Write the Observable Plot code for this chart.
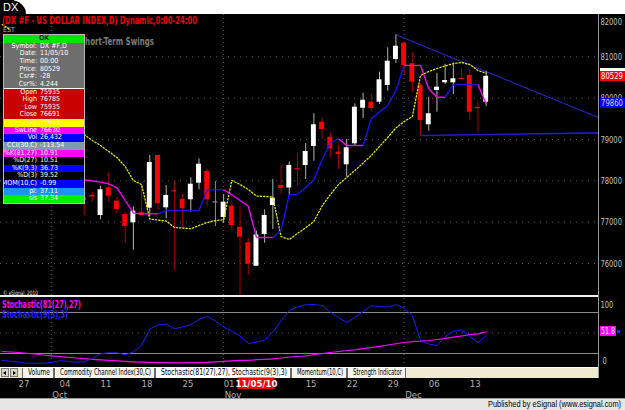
<!DOCTYPE html>
<html>
<head>
<meta charset="utf-8">
<script src="https://cdn.jsdelivr.net/npm/d3@7"></script>
<script src="https://cdn.jsdelivr.net/npm/@observablehq/plot@0.6"></script>
<style>
html,body{margin:0;padding:0;background:#fff;}
#wrap{position:relative;width:625px;height:410px;overflow:hidden;background:#000;
 font-family:"Liberation Sans Narrow","Arial Narrow","DejaVu Sans Condensed","Liberation Sans",sans-serif;}
#wrap .abs{position:absolute;white-space:nowrap;}
#wrap svg{position:absolute;left:0;}
</style>
</head>
<body>
<div id="wrap"></div>
<script>
// ---------------- DATA ----------------
const dates = ["2010-09-23","2010-09-24","2010-09-27","2010-09-28","2010-09-29","2010-09-30","2010-10-01",
"2010-10-04","2010-10-05","2010-10-06","2010-10-07","2010-10-08","2010-10-11","2010-10-12","2010-10-13","2010-10-14","2010-10-15",
"2010-10-18","2010-10-19","2010-10-20","2010-10-21","2010-10-22","2010-10-25","2010-10-26","2010-10-27","2010-10-28","2010-10-29",
"2010-11-01","2010-11-02","2010-11-03","2010-11-04","2010-11-05","2010-11-08","2010-11-09","2010-11-10","2010-11-11","2010-11-12",
"2010-11-15","2010-11-16","2010-11-17","2010-11-18","2010-11-19","2010-11-22","2010-11-23","2010-11-24","2010-11-25","2010-11-26",
"2010-11-29","2010-11-30","2010-12-01","2010-12-02","2010-12-03","2010-12-06","2010-12-07","2010-12-08","2010-12-09","2010-12-10",
"2010-12-13","2010-12-14","2010-12-15"];

const N0 = [null,null,null,null,null,null,null,null,null,null];
const open  = N0.concat([77600,77650,77162,77832,77508,77186,76986,77242,77339,78613,
 77348,77750,77549,77542,77943,78226,77465,77114,77387,76879,
 76502,75935,76703,77404,77888,77827,78282,78371,78831,79418,
 79056,78693,78388,78896,79757,79902,79902,80306,80935,81329,
 80831,80306,79356,80185,80371,80371,80475,80548,79767,79902]);
const high  = N0.concat([77800,77726,77863,78185,77605,77242,77372,77912,78613,78613,
 77888,77984,77670,78074,78533,78291,77984,77670,77508,77380,
 76623,76785,77300,78033,78371,78456,78661,78903,79622,79525,
 79152,78855,79000,79863,80120,80088,80628,81218,81532,81353,
 81087,80347,80023,80603,80821,80845,80710,80686,79902,80652]);
const low   = N0.concat([77162,77484,77058,77476,77203,76478,76323,77162,77138,77283,
 77082,75820,76879,77242,77784,77380,76896,76968,76799,75220,
 75711,75935,76492,76823,77677,77629,77871,78033,78475,78993,
 78557,78267,78088,78831,79508,79677,79846,80168,80845,80548,
 80144,79097,79201,79660,80330,80088,80440,79460,79176,79800]);
const close = N0.concat([77520,77610,77784,77629,77307,76896,77266,77162,78444,77445,
 77646,77735,77324,77919,78403,77542,77465,77484,76920,76637,
 75984,76691,77162,77580,77815,78371,78267,78710,79356,79242,
 78775,78637,78799,79781,79950,79750,80444,80894,81256,80790,
 80386,79460,79622,80265,80427,80468,80451,79660,79750,80529]);

// TFT (yellow dotted) – hidden bars left null
const tft = [81781,81660,null,null,null,null,null,null,null,null,
 79121,78976,78855,78710,78565,78347,78008,77912,77077,77053,
 77029,76872,76860,76840,76920,76993,77041,77058,78008,77912,
 77791,77633,77622,77609,76654,76582,76727,76865,77017,77392,
 77670,77912,78081,78250,78432,78613,78831,79048,79278,79435,
 79556,80548,80644,80717,80778,80838,80862,80814,80669,80603];

// SwLine values and state (M = above price / magenta, B = below price / blue)
const swLine = N0.concat([78025,77996,77967,77924,77832,77525,77218,77203,77203,77203,
 77283,77283,77283,77283,77283,77784,77784,77784,77663,77525,
 77392,76630,76630,76630,76799,77670,77670,77839,78025,78516,
 78915,79017,78855,78855,78855,79501,79665,79822,80185,80790,
 80790,80790,80226,80023,80023,80330,80330,80330,80330,79860]);
const swState = N0.concat(["M","M","M","M","M","M","M","M","M","M",
 "B","B","B","B","B","B","B","B","M","M",
 "M","M","M","M","B","B","B","B","B","B",
 "B","B","M","M","M","B","B","B","B","B",
 "M","M","M","M","M","B","B","B","B","M"]);

// Stochastic(81(27),27) %K and Stochastic(9(3),3) %K
const stochSlow = [22.9,22.2,21.5,20.3,19.3,17.8,16.6,15.6,14.4,13.4,
 12.4,11.5,10.8,10.0,9.3,8.6,7.7,7.3,7.0,6.7,
 6.5,6.4,6.4,6.5,6.7,7.0,7.7,8.6,9.3,9.8,
 10.0,10.91,11.5,12.2,13.4,14.9,15.6,16.3,18.5,19.7,
 21.5,22.9,24.4,25.4,27.0,28.8,30.5,32.4,34.3,36.1,
 37.3,38.0,39.0,40.5,42.2,43.9,45.6,47.5,48.8,51.8];
const stochFast = [9.8,8.7,7.3,5.8,5.8,5.8,6.8,9.3,8.7,7.3,
 7.6,12.7,19.6,21.0,21.0,18.2,22.2,31.7,55.9,61.7,
 63.2,56.3,58.8,62.4,69.8,74.2,67.6,58.8,52.9,45.6,
 34.6,36.73,39.8,51.5,67.6,82.9,88.3,91.4,91.7,90.2,
 80.7,72.7,65.4,72.7,81.5,89.8,88.8,88.1,91.4,86.6,
 75.6,39.0,33.9,31.7,44.9,52.5,54.5,44.9,36.1,46.3];

// trend lines (anchor dates / values)
const resistDates = ["2010-11-30","2010-12-15"];
const resistValues = [81532, 80640];
const supportDate = "2010-12-03";
const supportValues = [79097, 79160];   // start value, value at right edge

// ticks & labels
const priceTicks = [76000,77000,78000,79000,80000,81000];
const priceTop = 82000;
const stochLevels = [20,80];
const stochMid = 50;
const stochLabels = [100, 0];
const dayTickDates = ["2010-09-27","2010-10-04","2010-10-11","2010-10-18","2010-10-25","2010-11-01","2010-11-15","2010-11-22","2010-11-29","2010-12-06","2010-12-13"];
const dayTickLabels = ["27","04","11","18","25","01","15","22","29","06","13"];
const monthDates = ["2010-10-01","2010-11-01","2010-12-01"];
const monthLabels = ["Oct","Nov","Dec"];
const cursorDate = "2010-11-05";
const cursorLabel = "11/05/10";

const titleText = "(DX #F - US DOLLAR INDEX,D) Dynamic,0:00-24:00";
const infoLabels = ["OK","Symbol:","Date:","Time:","Price:","Csr#:","Csr%:","Open","High","Low","Close","TFT","SwLine","Vol","CCI(30,C)","%K(81,27)","%D(27)","%K(9,3)","%D(3)","MOM(10,C)","pl:","sls"];
const infoValues = ["","DX #F,D","11/05/10","00:00","80529","-28","4.244","75935","76785","75935","76691","77633","76630","26,432","-113.54","10.91","10.51","36.73","39.52","-0.99","37.11","37.34"];
const infoFill = ["#00e400","#6e6e6e","#6e6e6e","#6e6e6e","#6e6e6e","#6e6e6e","#6e6e6e","#c80000","#c80000","#c80000","#c80000","#ffff00","#ff00ff","#0000ff","#7f9aae","#ff00ff","#000000","#0000ff","#000000","#0000ff","#2090ff","#00ee00"];
const tabLabels = ["Volume","Commodity Channel Index(30,C)","Stochastic(81(27),27), Stochastic(9(3),3)","Momentum(10,C)","Strength Indicator"];

// ---------------- LAYOUT ----------------
const wrap = document.getElementById("wrap");
const FONT = '"Liberation Sans Narrow","Arial Narrow","DejaVu Sans Condensed","Liberation Sans",sans-serif';
function el(css, text, parent){ const d=document.createElement("div"); d.className="abs"; Object.assign(d.style, css); if(text!=null) d.textContent=text; (parent||wrap).appendChild(d); return d; }
function fit(d, w, origin){ const r=d.getBoundingClientRect().width; if(r>0){ d.style.transform="scaleX("+(w/r).toFixed(3)+")"; d.style.transformOrigin=(origin||"left")+" center"; } }
// horizontally compress numeric SVG labels to the narrow width of the original pixel font
function squeeze(svg, perChar){
  svg.querySelectorAll("text").forEach(t=>{
    const s=t.textContent;
    if(s && /^[0-9.]+$/.test(s)){
      const w = t.getComputedTextLength();
      if (w>0) { const k = Math.min(1, perChar*s.length/w); t.setAttribute("transform", (t.getAttribute("transform")||"") + " scale(" + k.toFixed(3) + ",1)"); }
    }
  });
}
const idx = d => dates.indexOf(d);
const xDomain = [-0.195, 72.69];
const XR = xDomain[1];

// top white strip and DX tab
el({left:"0px",top:"0px",width:"625px",height:"14px",background:"#fff"});
el({left:"0px",top:"0px",width:"14px",height:"14px",background:"#000"});
el({left:"6px",top:"0px",width:"20px",height:"14px",background:"#000",borderTopRightRadius:"16px 14px"});
el({left:"3px",top:"1px",color:"#fff",fontSize:"11px",lineHeight:"12px",fontFamily:"'Liberation Sans',sans-serif"},"DX");

// ---------------- MAIN PRICE PANE ----------------
const bars = dates.map((d,i)=>({i, o:open[i], h:high[i], l:low[i], c:close[i]})).filter(b=>b.o!=null);
const bodyColor = b => b.c>b.o ? "#ffffff" : b.c<b.o ? "#ff0000" : "#8c8c8c";
const wickColor = b => b.c>b.o ? "#b4b4b4" : b.c<b.o ? "#a80000" : "#8c8c8c";
const tftPts = dates.map((d,i)=>({i, v:tft[i]}));
const swSegs = [];
for (let i=1;i<dates.length;i++){
  if (swLine[i-1]!=null && swLine[i]!=null)
    swSegs.push({x1:i-1, y1:swLine[i-1], x2:i, y2:swLine[i], color: swState[i]==="M" ? "#ff00ff" : "#1414ff"});
}
const r0 = idx(resistDates[0]), r1 = idx(resistDates[1]);
const rSlope = (resistValues[1]-resistValues[0])/(r1-r0);
const resist = {x1:r0, y1:resistValues[0], x2:XR, y2:resistValues[0]+rSlope*(XR-r0)};
const support = {x1:idx(supportDate), y1:supportValues[0], x2:XR, y2:supportValues[1]};
const monthIdx = monthDates.map(idx);

const main = Plot.plot({
  width:625, height:282, marginTop:0, marginBottom:0, marginLeft:0, marginRight:27,
  x:{domain:xDomain, axis:null},
  y:{domain:[75203, 82023], axis:null},
  color:{type:"identity"},
  style:{background:"transparent", fontFamily:FONT, fontSize:"9.5px", color:"#c0c0c0", overflow:"visible"},
  marks:[
    Plot.ruleY(priceTicks, {stroke:"#5c5c5c", strokeDasharray:"1,5"}),
    Plot.ruleX(monthIdx, {stroke:"#5c5c5c", strokeDasharray:"1,3"}),
    Plot.link([resist], {x1:"x1", y1:"y1", x2:"x2", y2:"y2", stroke:"#2a2ad8", strokeWidth:1}),
    Plot.link([support], {x1:"x1", y1:"y1", x2:"x2", y2:"y2", stroke:"#1c1cd0", strokeWidth:1.6}),
    Plot.ruleX(bars, {x:"i", y1:"l", y2:"h", stroke:wickColor, strokeWidth:1}),
    Plot.rect(bars, {x1:b=>b.i-0.3, x2:b=>b.i+0.3, y1:b=>Math.min(b.o,b.c), y2:b=>Math.max(b.o,b.c,Math.min(b.o,b.c)+28), fill:bodyColor}),
    Plot.line(tftPts, {x:"i", y:"v", stroke:"#e4e400", strokeWidth:1.3, strokeDasharray:"1.3,2"}),
    Plot.link(swSegs, {x1:"x1", y1:"y1", x2:"x2", y2:"y2", stroke:"color", strokeWidth:1.3}),
    Plot.text(priceTicks, {y:d=>d, text:d=>String(d), frameAnchor:"right", textAnchor:"start", dx:2, fill:"#c0c0c0"}),
    Plot.text([priceTop], {y:d=>d, text:d=>String(d), frameAnchor:"right", textAnchor:"start", dx:2, dy:6, fill:"#c0c0c0"})
  ]
});
main.style.top = "14px";
wrap.appendChild(main);
squeeze(main, 4.3);
const py = v => main.scale("y").apply(v) + 14;

// overlays on main pane
const t1 = el({left:"2px",top:"15px",fontSize:"10px",lineHeight:"12px",fontWeight:"bold",color:"#ee0000"}, titleText); fit(t1,195);
const t2 = el({left:"3px",top:"26px",fontSize:"7px",lineHeight:"8px",color:"#b8b8b8"}, "EST"); fit(t2,12);
const t3 = el({left:"80px",top:"36px",fontSize:"10px",lineHeight:"11px",fontWeight:"bold",color:"#7c7c7c"}, "Short-Term Swings"); fit(t3,74);
const t4 = el({left:"3px",top:"289px",fontSize:"6px",lineHeight:"7px",color:"#e0e0e0"}, "\u00a9 eSignal, 2010"); fit(t4,35);

// info box
const ib = el({left:"3px",top:"34px",width:"82px",height:"170px",boxSizing:"border-box",border:"1px solid #b8b8b8",background:"#000",overflow:"hidden"});
const RH = 168/infoLabels.length;
infoLabels.forEach((lab,k)=>{
  const row = el({left:"0px",top:(k*RH)+"px",width:"80px",height:RH+"px",background:infoFill[k],
     borderTop: (k===7 ? "1px solid #fff" : "none"), boxSizing:"border-box"}, null, ib);
  const txtColor = k===0 ? "#003300" : (k===11 ? "#f0f0c0" : "#ffffff");
  if (k===0) {
    el({left:"0px",width:"80px",top:"0px",textAlign:"center",fontSize:"7px",lineHeight:RH+"px",color:txtColor,fontWeight:"bold"}, lab, row);
  } else {
    el({right:"47px",top:"0px",fontSize:"7px",lineHeight:RH+"px",color:txtColor}, lab, row);
    el({left:"36px",top:"0px",fontSize:"7px",lineHeight:RH+"px",color:txtColor}, infoValues[k], row);
  }
});

// right-axis last value labels
const lastI = dates.length-1;
const cyP = py(close[lastI]);
el({left:"600px",top:(cyP-7.5)+"px",width:"25px",height:"3px",background:"#fff"});
el({left:"600px",top:(cyP-5)+"px",width:"25px",height:"10px",background:"#ff0000"});
const lp = el({left:"601px",top:(cyP-5)+"px",fontSize:"9.5px",lineHeight:"10px",color:"#fff"}, String(close[lastI])); fit(lp,22);
const cyS = py(swLine[lastI]);
el({left:"600px",top:(cyS-5)+"px",width:"25px",height:"10px",background:"#0000ee"});
const ls = el({left:"601px",top:(cyS-5)+"px",fontSize:"9.5px",lineHeight:"10px",color:"#d8d8ff"}, String(swLine[lastI])); fit(ls,22);

// pane separator
el({left:"0px",top:"295px",width:"598px",height:"2px",background:"#f0f0f0"});

// ---------------- STOCHASTIC PANE ----------------
const stData = dates.map((d,i)=>({i, slow:stochSlow[i], fast:stochFast[i]}));
const stoch = Plot.plot({
  width:625, height:68, marginTop:0, marginBottom:0, marginLeft:0, marginRight:27,
  x:{domain:xDomain, axis:null},
  y:{domain:[0.97, 100.5], axis:null},
  style:{background:"transparent", fontFamily:FONT, fontSize:"9.5px", color:"#c0c0c0", overflow:"visible"},
  marks:[
    Plot.ruleY(stochLevels, {stroke:"#8a8a8a"}),
    Plot.ruleY([stochMid], {stroke:"#5c5c5c", strokeDasharray:"1,5"}),
    Plot.ruleX(monthIdx, {stroke:"#5c5c5c", strokeDasharray:"1,3"}),
    Plot.line(stData, {x:"i", y:"slow", stroke:"#ff00ff", strokeWidth:1.2}),
    Plot.line(stData, {x:"i", y:"fast", stroke:"#1c1cff", strokeWidth:1}),
    Plot.text([stochLabels[0]], {y:d=>d, text:d=>String(d), frameAnchor:"right", textAnchor:"start", dx:2, dy:6, fill:"#c0c0c0"}),
    Plot.text([stochLabels[1]], {y:d=>d, text:d=>String(d), frameAnchor:"right", textAnchor:"start", dx:4, dy:-6, fill:"#c0c0c0"})
  ]
});
stoch.style.top = "298px";
wrap.appendChild(stoch);
squeeze(stoch, 4.3);
const sy = v => stoch.scale("y").apply(v) + 298;
const s1 = el({left:"2px",top:"300px",fontSize:"10px",lineHeight:"10px",fontWeight:"bold",color:"#ff00ff"}, "Stochastic(81(27),27)"); fit(s1,79);
const s2 = el({left:"2px",top:"310px",fontSize:"10px",lineHeight:"10px",fontWeight:"bold",color:"#2424ff"}, "Stochastic(9(3),3)"); fit(s2,66);
const cySt = sy(stochSlow[lastI]);
el({left:"600px",top:(cySt-5)+"px",width:"16px",height:"10px",background:"#ff00ff"});
const sl = el({left:"601px",top:(cySt-5)+"px",fontSize:"9.5px",lineHeight:"10px",color:"#fff"}, String(stochSlow[lastI])); fit(sl,14);
el({left:"617px",top:(cySt-1.5)+"px",width:"3px",height:"3px",background:"#2424ff"});

// right axis vertical line
el({left:"598px",top:"14px",width:"1px",height:"364px",background:"#9a9a9a"});

// ---------------- TAB BAR ----------------
const tb = el({left:"0px",top:"367px",width:"598px",height:"11px",background:"#efe9d2",borderTop:"1px solid #fff",boxSizing:"border-box"});
[1,10].forEach((x,k)=>{
  const b = el({left:x+"px",top:"0px",width:"8px",height:"9px",background:"#d8d4cc",border:"1px solid #7a7a7a",boxSizing:"border-box"}, null, tb);
  el(k===0 ? {left:"1px",top:"1.5px",width:"0",height:"0",borderTop:"2.5px solid transparent",borderBottom:"2.5px solid transparent",borderRight:"3px solid #000"}
           : {left:"2px",top:"1.5px",width:"0",height:"0",borderTop:"2.5px solid transparent",borderBottom:"2.5px solid transparent",borderLeft:"3px solid #000"}, null, b);
});
const tabX = [22,54,155,291,347,406];
tabLabels.forEach((t,k)=>{
  const w = tabX[k+1]-tabX[k];
  const tab = el({left:tabX[k]+"px",top:"0px",width:w+"px",height:"10px",background:k===2?"#ffffff":"#f6f4ec",
    borderLeft:"1px solid #6a6a6a",borderRight:"1px solid #6a6a6a",boxSizing:"border-box"}, null, tb);
  const tt = el({left:"5px",top:"0px",fontSize:"8px",lineHeight:"10px",color:"#000"}, t, tab);
  fit(tt, w-10);
});

// ---------------- DATE AXIS ----------------
const dayTicks = dayTickDates.map((d,k)=>({i:idx(d), label:dayTickLabels[k]}));
const monthTicks = monthDates.map((d,k)=>({i:idx(d), label:monthLabels[k]}));
const cur = {i:idx(cursorDate), label:cursorLabel};
const axisPlot = Plot.plot({
  width:625, height:22, marginTop:0, marginBottom:0, marginLeft:0, marginRight:27,
  x:{domain:xDomain, axis:null},
  y:{domain:[0,22], range:[0,22], axis:null},
  style:{background:"transparent", fontFamily:FONT, fontSize:"9.5px", color:"#b0b0b0", overflow:"visible"},
  marks:[
    Plot.text(dayTicks, {x:"i", y:7, text:"label", textAnchor:"start", fill:"#b0b0b0"}),
    Plot.text(monthTicks, {x:"i", y:18, text:"label", textAnchor:"start", dx:1, fill:"#b0b0b0"}),
    Plot.rect([cur], {x1:d=>d.i-2.25, x2:d=>d.i+2.25, y1:1.5, y2:13, fill:"#ff0000"}),
    Plot.text([cur], {x:"i", y:7.5, text:"label", fill:"#fff", fontWeight:"bold"})
  ]
});
axisPlot.style.top = "376px";
wrap.appendChild(axisPlot);

// ---------------- BOTTOM BAR ----------------
el({left:"0px",top:"398px",width:"625px",height:"12px",background:"#e6e6e6",borderTop:"1px solid #9a9a9a",boxSizing:"border-box"});
const pb = el({right:"4px",top:"398.5px",fontSize:"8.5px",lineHeight:"11px",color:"#000",fontFamily:"'Liberation Sans',sans-serif"}, "Published by eSignal (www.esignal.com)");
fit(pb,133,"right");
</script>
</body>
</html>
